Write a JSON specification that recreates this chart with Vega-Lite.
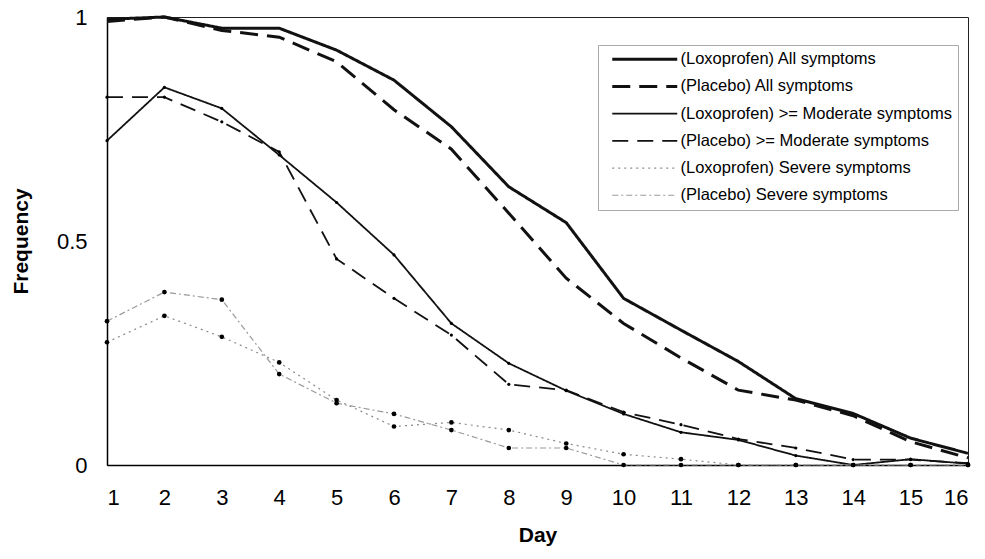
{
  "$schema": "https://vega.github.io/schema/vega-lite/v6.json",
  "width": 861,
  "height": 448,
  "autosize": {"type": "none"},
  "padding": {"left": 107, "top": 17, "right": 17, "bottom": 94},
  "background": "white",
  "config": {
    "font": "Liberation Sans",
    "view": {"stroke": "#222", "strokeWidth": 1},
    "axis": {
      "grid": false,
      "ticks": false,
      "domainColor": "black",
      "domainWidth": 1.5,
      "labelFont": "Liberation Sans",
      "labelFontSize": 22,
      "labelColor": "black",
      "titleFont": "Liberation Sans",
      "titleFontSize": 21,
      "titleFontWeight": "bold",
      "titleColor": "black"
    }
  },
  "data": {
    "values": [
      {"day": 1, "freq": 0.995, "series": "(Loxoprofen) All symptoms"},
      {"day": 2, "freq": 1.0, "series": "(Loxoprofen) All symptoms"},
      {"day": 3, "freq": 0.975, "series": "(Loxoprofen) All symptoms"},
      {"day": 4, "freq": 0.975, "series": "(Loxoprofen) All symptoms"},
      {"day": 5, "freq": 0.926, "series": "(Loxoprofen) All symptoms"},
      {"day": 6, "freq": 0.859, "series": "(Loxoprofen) All symptoms"},
      {"day": 7, "freq": 0.755, "series": "(Loxoprofen) All symptoms"},
      {"day": 8, "freq": 0.621, "series": "(Loxoprofen) All symptoms"},
      {"day": 9, "freq": 0.541, "series": "(Loxoprofen) All symptoms"},
      {"day": 10, "freq": 0.372, "series": "(Loxoprofen) All symptoms"},
      {"day": 11, "freq": 0.301, "series": "(Loxoprofen) All symptoms"},
      {"day": 12, "freq": 0.231, "series": "(Loxoprofen) All symptoms"},
      {"day": 13, "freq": 0.148, "series": "(Loxoprofen) All symptoms"},
      {"day": 14, "freq": 0.115, "series": "(Loxoprofen) All symptoms"},
      {"day": 15, "freq": 0.06, "series": "(Loxoprofen) All symptoms"},
      {"day": 16, "freq": 0.026, "series": "(Loxoprofen) All symptoms"},
      {"day": 1, "freq": 0.99, "series": "(Placebo) All symptoms"},
      {"day": 2, "freq": 1.0, "series": "(Placebo) All symptoms"},
      {"day": 3, "freq": 0.97, "series": "(Placebo) All symptoms"},
      {"day": 4, "freq": 0.955, "series": "(Placebo) All symptoms"},
      {"day": 5, "freq": 0.9, "series": "(Placebo) All symptoms"},
      {"day": 6, "freq": 0.793, "series": "(Placebo) All symptoms"},
      {"day": 7, "freq": 0.705, "series": "(Placebo) All symptoms"},
      {"day": 8, "freq": 0.562, "series": "(Placebo) All symptoms"},
      {"day": 9, "freq": 0.417, "series": "(Placebo) All symptoms"},
      {"day": 10, "freq": 0.316, "series": "(Placebo) All symptoms"},
      {"day": 11, "freq": 0.239, "series": "(Placebo) All symptoms"},
      {"day": 12, "freq": 0.167, "series": "(Placebo) All symptoms"},
      {"day": 13, "freq": 0.145, "series": "(Placebo) All symptoms"},
      {"day": 14, "freq": 0.11, "series": "(Placebo) All symptoms"},
      {"day": 15, "freq": 0.052, "series": "(Placebo) All symptoms"},
      {"day": 16, "freq": 0.016, "series": "(Placebo) All symptoms"},
      {"day": 1, "freq": 0.724, "series": "(Loxoprofen) >= Moderate symptoms"},
      {"day": 2, "freq": 0.843, "series": "(Loxoprofen) >= Moderate symptoms"},
      {"day": 3, "freq": 0.796, "series": "(Loxoprofen) >= Moderate symptoms"},
      {"day": 4, "freq": 0.692, "series": "(Loxoprofen) >= Moderate symptoms"},
      {"day": 5, "freq": 0.586, "series": "(Loxoprofen) >= Moderate symptoms"},
      {"day": 6, "freq": 0.469, "series": "(Loxoprofen) >= Moderate symptoms"},
      {"day": 7, "freq": 0.316, "series": "(Loxoprofen) >= Moderate symptoms"},
      {"day": 8, "freq": 0.227, "series": "(Loxoprofen) >= Moderate symptoms"},
      {"day": 9, "freq": 0.166, "series": "(Loxoprofen) >= Moderate symptoms"},
      {"day": 10, "freq": 0.114, "series": "(Loxoprofen) >= Moderate symptoms"},
      {"day": 11, "freq": 0.073, "series": "(Loxoprofen) >= Moderate symptoms"},
      {"day": 12, "freq": 0.056, "series": "(Loxoprofen) >= Moderate symptoms"},
      {"day": 13, "freq": 0.021, "series": "(Loxoprofen) >= Moderate symptoms"},
      {"day": 14, "freq": 0.0, "series": "(Loxoprofen) >= Moderate symptoms"},
      {"day": 15, "freq": 0.013, "series": "(Loxoprofen) >= Moderate symptoms"},
      {"day": 16, "freq": 0.003, "series": "(Loxoprofen) >= Moderate symptoms"},
      {"day": 1, "freq": 0.821, "series": "(Placebo) >= Moderate symptoms"},
      {"day": 2, "freq": 0.821, "series": "(Placebo) >= Moderate symptoms"},
      {"day": 3, "freq": 0.766, "series": "(Placebo) >= Moderate symptoms"},
      {"day": 4, "freq": 0.699, "series": "(Placebo) >= Moderate symptoms"},
      {"day": 5, "freq": 0.46, "series": "(Placebo) >= Moderate symptoms"},
      {"day": 6, "freq": 0.372, "series": "(Placebo) >= Moderate symptoms"},
      {"day": 7, "freq": 0.29, "series": "(Placebo) >= Moderate symptoms"},
      {"day": 8, "freq": 0.18, "series": "(Placebo) >= Moderate symptoms"},
      {"day": 9, "freq": 0.167, "series": "(Placebo) >= Moderate symptoms"},
      {"day": 10, "freq": 0.118, "series": "(Placebo) >= Moderate symptoms"},
      {"day": 11, "freq": 0.09, "series": "(Placebo) >= Moderate symptoms"},
      {"day": 12, "freq": 0.058, "series": "(Placebo) >= Moderate symptoms"},
      {"day": 13, "freq": 0.038, "series": "(Placebo) >= Moderate symptoms"},
      {"day": 14, "freq": 0.012, "series": "(Placebo) >= Moderate symptoms"},
      {"day": 15, "freq": 0.012, "series": "(Placebo) >= Moderate symptoms"},
      {"day": 16, "freq": 0.004, "series": "(Placebo) >= Moderate symptoms"},
      {"day": 1, "freq": 0.274, "series": "(Loxoprofen) Severe symptoms"},
      {"day": 2, "freq": 0.333, "series": "(Loxoprofen) Severe symptoms"},
      {"day": 3, "freq": 0.286, "series": "(Loxoprofen) Severe symptoms"},
      {"day": 4, "freq": 0.229, "series": "(Loxoprofen) Severe symptoms"},
      {"day": 5, "freq": 0.145, "series": "(Loxoprofen) Severe symptoms"},
      {"day": 6, "freq": 0.086, "series": "(Loxoprofen) Severe symptoms"},
      {"day": 7, "freq": 0.095, "series": "(Loxoprofen) Severe symptoms"},
      {"day": 8, "freq": 0.078, "series": "(Loxoprofen) Severe symptoms"},
      {"day": 9, "freq": 0.048, "series": "(Loxoprofen) Severe symptoms"},
      {"day": 10, "freq": 0.024, "series": "(Loxoprofen) Severe symptoms"},
      {"day": 11, "freq": 0.013, "series": "(Loxoprofen) Severe symptoms"},
      {"day": 12, "freq": 0.0, "series": "(Loxoprofen) Severe symptoms"},
      {"day": 13, "freq": 0.0, "series": "(Loxoprofen) Severe symptoms"},
      {"day": 14, "freq": 0.0, "series": "(Loxoprofen) Severe symptoms"},
      {"day": 15, "freq": 0.0, "series": "(Loxoprofen) Severe symptoms"},
      {"day": 16, "freq": 0.0, "series": "(Loxoprofen) Severe symptoms"},
      {"day": 1, "freq": 0.321, "series": "(Placebo) Severe symptoms"},
      {"day": 2, "freq": 0.386, "series": "(Placebo) Severe symptoms"},
      {"day": 3, "freq": 0.369, "series": "(Placebo) Severe symptoms"},
      {"day": 4, "freq": 0.203, "series": "(Placebo) Severe symptoms"},
      {"day": 5, "freq": 0.138, "series": "(Placebo) Severe symptoms"},
      {"day": 6, "freq": 0.114, "series": "(Placebo) Severe symptoms"},
      {"day": 7, "freq": 0.078, "series": "(Placebo) Severe symptoms"},
      {"day": 8, "freq": 0.038, "series": "(Placebo) Severe symptoms"},
      {"day": 9, "freq": 0.038, "series": "(Placebo) Severe symptoms"},
      {"day": 10, "freq": 0.0, "series": "(Placebo) Severe symptoms"},
      {"day": 11, "freq": 0.0, "series": "(Placebo) Severe symptoms"},
      {"day": 12, "freq": 0.0, "series": "(Placebo) Severe symptoms"},
      {"day": 13, "freq": 0.0, "series": "(Placebo) Severe symptoms"},
      {"day": 14, "freq": 0.0, "series": "(Placebo) Severe symptoms"},
      {"day": 15, "freq": 0.0, "series": "(Placebo) Severe symptoms"},
      {"day": 16, "freq": 0.0, "series": "(Placebo) Severe symptoms"}
    ]
  },
  "layer": [
    {
      "mark": {"type": "line", "strokeCap": "butt", "strokeJoin": "miter"},
      "encoding": {
        "x": {
          "field": "day", "type": "quantitative",
          "scale": {"domain": [1, 16], "nice": false, "zero": false},
          "axis": {"values": [1,2,3,4,5,6,7,8,9,10,11,12,13,14,15,16], "format": "d", "title": "Day", "labelPadding": 22, "titlePadding": 16}
        },
        "y": {
          "field": "freq", "type": "quantitative",
          "scale": {"domain": [0, 1], "nice": false},
          "axis": {"values": [0, 0.5, 1], "format": "~g", "title": "Frequency", "labelPadding": 20, "titlePadding": 25}
        },
        "color": {
          "field": "series", "type": "nominal",
          "scale": {
            "domain": ["(Loxoprofen) All symptoms", "(Placebo) All symptoms", "(Loxoprofen) >= Moderate symptoms", "(Placebo) >= Moderate symptoms", "(Loxoprofen) Severe symptoms", "(Placebo) Severe symptoms"],
            "range": ["#111111", "#111111", "#111111", "#111111", "#8a8a8a", "#9a9a9a"]
          },
          "legend": {
            "orient": "none", "legendX": 491, "legendY": 28, "title": null,
            "padding": 6, "symbolType": "M0,0H13", "symbolSize": 100, "symbolOffset": 0, "rowPadding": 10.2,
            "labelFont": "Liberation Sans", "labelFontSize": 16.5, "labelColor": "black",
            "labelOffset": 60, "labelLimit": 400, "strokeColor": "#aaaaaa", "fillColor": "white"
          }
        },
        "strokeDash": {
          "field": "series", "type": "nominal",
          "scale": {
            "domain": ["(Loxoprofen) All symptoms", "(Placebo) All symptoms", "(Loxoprofen) >= Moderate symptoms", "(Placebo) >= Moderate symptoms", "(Loxoprofen) Severe symptoms", "(Placebo) Severe symptoms"],
            "range": [[1, 0], [18, 9], [1, 0], [16, 9], [2, 4], [6, 3, 2, 3]]
          }
        },
        "strokeWidth": {
          "field": "series", "type": "nominal",
          "scale": {
            "type": "ordinal",
            "domain": ["(Loxoprofen) All symptoms", "(Placebo) All symptoms", "(Loxoprofen) >= Moderate symptoms", "(Placebo) >= Moderate symptoms", "(Loxoprofen) Severe symptoms", "(Placebo) Severe symptoms"],
            "range": [3, 3, 1.8, 1.8, 1.2, 1.2]
          }
        }
      }
    },
    {
      "transform": [{"filter": {"field": "series", "oneOf": ["(Loxoprofen) >= Moderate symptoms", "(Placebo) >= Moderate symptoms"]}}],
      "mark": {"type": "point", "filled": true, "color": "black", "opacity": 1, "size": 10},
      "encoding": {
        "x": {"field": "day", "type": "quantitative"},
        "y": {"field": "freq", "type": "quantitative"}
      }
    },
    {
      "transform": [{"filter": {"field": "series", "oneOf": ["(Loxoprofen) Severe symptoms", "(Placebo) Severe symptoms"]}}],
      "mark": {"type": "point", "filled": true, "color": "black", "opacity": 1, "size": 22},
      "encoding": {
        "x": {"field": "day", "type": "quantitative"},
        "y": {"field": "freq", "type": "quantitative"}
      }
    }
  ]
}
